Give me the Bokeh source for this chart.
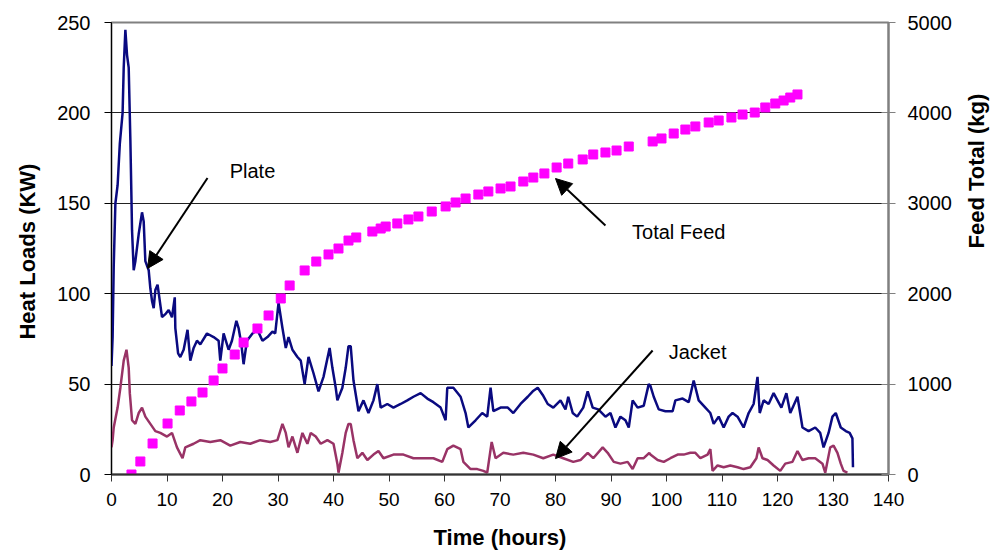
import math
from bokeh.plotting import figure
from bokeh.models import Range1d, LinearAxis, Arrow, NormalHead, Label, FixedTicker
from bokeh.embed import file_html
from bokeh.resources import INLINE

# Plate heat load (kW) versus time (h)
plate_t = [0.0, 0.2, 0.4, 0.7, 1.1, 1.5, 2.0, 2.2, 2.5, 2.8, 3.1, 3.4, 3.6, 3.7, 4.0, 4.3,
           4.9, 5.5, 5.8, 6.1, 6.7, 7.0, 7.3, 7.6, 7.9, 8.3, 8.7, 9.1, 9.8, 10.3, 10.9,
           11.4, 11.5, 12.0, 12.4, 13.0, 13.7, 14.2, 14.8, 15.4, 16.0, 17.2, 18.4, 19.3,
           19.6, 20.2, 21.1, 21.7, 22.5, 22.9, 23.4, 23.8, 24.4, 25.4, 26.3, 27.2, 28.1,
           29.0, 29.5, 30.1, 30.8, 31.4, 31.9, 32.6, 33.5, 34.1, 34.8, 35.5, 36.4, 37.3,
           38.2, 39.3, 39.8, 40.4, 40.7, 41.6, 42.2, 42.7, 43.1, 43.6, 44.5, 45.4, 46.3,
           47.2, 47.9, 48.5, 49.7, 50.8, 52.1, 53.3, 54.4, 55.7, 56.9, 58.0, 59.3, 60.2,
           60.5, 61.6, 62.9, 63.8, 64.3, 65.6, 66.8, 67.7, 68.3, 68.8, 70.1, 71.4, 72.4,
           73.7, 75.0, 75.9, 76.8, 77.7, 78.6, 79.6, 80.9, 81.8, 82.3, 83.1, 83.9, 85.0,
           85.8, 86.7, 87.7, 89.0, 89.9, 90.8, 91.7, 92.6, 93.2, 93.9, 94.8, 95.9, 96.8,
           97.1, 97.7, 98.6, 99.8, 101.1, 101.6, 102.9, 104.0, 104.9, 105.8, 107.0, 107.9,
           108.5, 109.4, 110.3, 111.2, 111.9, 112.8, 113.9, 114.8, 115.7, 116.4, 116.8,
           117.5, 118.4, 119.3, 120.0, 120.7, 121.6, 122.3, 123.6, 124.5, 125.6, 126.8,
           127.7, 128.3, 129.2, 129.9, 130.5, 131.4, 132.3, 133.0, 133.5, 133.6]
plate_kw = [60, 76, 115, 150, 160, 183, 200, 225, 246, 232, 225, 185, 152, 135, 113, 118,
            133, 145, 140, 118, 113, 103, 96, 92, 102, 105, 96, 87, 89, 91, 87,
            98, 81, 67, 65, 69, 80, 63, 70, 74, 72, 78, 76, 74,
            63, 78, 69, 74, 85, 81, 72, 61, 74, 78, 80, 74, 76,
            79, 78, 95, 81, 70, 76, 69, 65, 63, 50, 65, 56, 46,
            54, 70, 59, 48, 41, 48, 59, 71, 71, 52, 35, 41, 34,
            41, 50, 37, 39, 37, 39, 41, 43, 45, 42, 40, 37, 30,
            48, 48, 43, 34, 26, 30, 34, 32, 48, 35, 37, 37, 34,
            39, 43, 46, 48, 44, 39, 37, 41, 36, 43, 34, 32, 37,
            46, 37, 36, 32, 34, 26, 32, 30, 26, 41, 37, 38, 50,
            49, 43, 36, 35, 35, 41, 42, 40, 52, 41, 37, 34,
            28, 32, 26, 32, 34, 32, 26, 34, 39, 54, 34,
            41, 39, 45, 41, 37, 45, 34, 43, 26, 24, 26,
            23, 15, 23, 32, 34, 26, 24, 23, 20, 4]

# Jacket heat load (kW) versus time (h)
jacket_t = [0.0, 0.2, 0.4, 1.1, 1.6, 2.2, 2.7, 3.1, 3.3, 3.7, 4.3, 4.9, 5.5, 6.1, 7.0, 7.9,
            8.8, 10.0, 10.9, 11.8, 12.8, 13.3, 14.8, 16.0, 17.8, 19.6, 21.4, 23.2, 25.0,
            26.8, 28.6, 29.9, 30.8, 31.4, 31.9, 32.6, 33.5, 34.4, 35.3, 35.9, 36.8, 37.7,
            38.9, 40.0, 40.7, 40.9, 41.6, 42.2, 42.7, 43.1, 43.6, 44.3, 45.2, 46.1, 47.2,
            48.1, 49.0, 50.8, 52.6, 54.4, 56.2, 58.0, 59.6, 60.5, 61.6, 62.9, 63.4, 64.7,
            65.9, 67.0, 67.7, 68.5, 69.2, 70.6, 72.4, 74.2, 76.0, 77.8, 79.6, 81.4, 83.2,
            84.5, 85.8, 86.8, 88.5, 89.4, 90.5, 91.7, 93.0, 93.9, 94.8, 95.9, 96.9, 97.1,
            98.4, 99.5, 100.7, 102.0, 103.1, 104.3, 105.2, 106.1, 107.4, 107.9, 108.3,
            109.2, 110.3, 111.5, 112.8, 113.9, 115.1, 116.2, 116.6, 117.3, 118.2, 119.3,
            120.5, 121.4, 122.7, 123.6, 124.5, 125.6, 126.8, 128.1, 128.6, 129.5, 130.1,
            130.8, 131.4, 131.9, 132.6]
jacket_kw = [15, 19, 26, 37, 48, 63, 69, 59, 45, 30, 28, 34, 37, 32, 28, 24,
             23, 21, 23, 15, 9, 15, 17, 19, 18, 19, 16, 18, 17,
             19, 18, 19, 28, 23, 15, 21, 12, 23, 17, 23, 21, 17,
             19, 17, 6, 1, 12, 23, 28, 28, 19, 9, 12, 8, 11,
             13, 9, 11, 11, 9, 9, 9, 7, 14, 16, 14, 7, 3,
             3, 2, 1, 18, 9, 12, 11, 12, 11, 9, 11, 9, 7,
             8, 12, 9, 15, 12, 7, 6, 7, 3, 9, 9, 12, 11,
             8, 7, 9, 11, 11, 12, 12, 9, 11, 14, 2,
             5, 4, 5, 4, 3, 4, 9, 15, 9, 8, 5,
             2, 6, 7, 13, 8, 9, 9, 6, 1, 15, 16,
             12, 6, 2, 1]

# Cumulative feed (kg)
feed_t = [3.6, 5.2, 7.4, 10.1, 12.3, 14.4, 16.4, 18.4, 20.0, 22.2, 23.8, 26.3, 28.3, 30.5,
          32.1, 34.8, 36.9, 39.1, 40.9, 42.7, 44.1, 47.0, 48.5, 49.4, 51.5, 53.5, 55.3,
          57.7, 60.2, 62.0, 63.8, 66.1, 67.9, 70.1, 71.9, 74.2, 76.0, 78.0, 80.2, 82.3,
          84.9, 86.8, 89.0, 91.0, 93.2, 97.5, 99.1, 101.3, 103.4, 105.2, 107.6, 109.4,
          111.7, 113.7, 115.9, 117.8, 119.6, 121.1, 122.3, 123.6]
feed_kg = [0, 144, 343, 564, 708, 808, 907, 1040, 1173, 1327, 1460, 1615, 1759, 1947,
           2091, 2257, 2356, 2434, 2500, 2588, 2622, 2688, 2721, 2743, 2777, 2821, 2854,
           2909, 2965, 3009, 3053, 3097, 3131, 3164, 3186, 3241, 3285, 3330, 3396, 3440,
           3485, 3540, 3562, 3584, 3628, 3684, 3717, 3772, 3816, 3850, 3894, 3916,
           3949, 3982, 4004, 4060, 4104, 4137, 4170, 4204]

x_ticks = list(range(0, 141, 10))
kw_ticks = [0, 50, 100, 150, 200, 250]
kg_ticks = [0, 1000, 2000, 3000, 4000, 5000]

FONT = "Liberation Sans"

p = figure(frame_width=777, frame_height=452,
           min_border_left=111, min_border_right=107,
           min_border_top=22, min_border_bottom=86,
           x_range=Range1d(0, 140), y_range=Range1d(0, 250),
           output_backend="svg", toolbar_location=None,
           background_fill_color="white", border_fill_color="white")
p.extra_y_ranges = {"feed": Range1d(0, 5000)}
p.outline_line_color = "#808080"
p.outline_line_width = 2

p.xgrid.visible = False
p.ygrid.ticker = FixedTicker(ticks=kw_ticks)
p.ygrid.grid_line_color = "#222222"
p.ygrid.grid_line_width = 1

# bottom axis
xa = p.xaxis[0]
xa.ticker = FixedTicker(ticks=x_ticks)
xa.axis_label = "Time (hours)"
xa.axis_line_color = "#333333"
xa.axis_line_width = 2
xa.major_tick_out = 7
xa.major_tick_in = 0
xa.minor_tick_out = 0
xa.major_tick_line_color = "#333333"
xa.major_label_text_font = FONT
xa.major_label_text_font_size = "19px"
xa.major_label_text_color = "black"
xa.major_label_standoff = 11
xa.axis_label_text_font = FONT
xa.axis_label_text_font_style = "bold"
xa.axis_label_text_font_size = "22px"
xa.axis_label_text_color = "black"
xa.axis_label_standoff = 16

# left axis
ya = p.yaxis[0]
ya.ticker = FixedTicker(ticks=kw_ticks)
ya.axis_label = "Heat Loads  (KW)"
ya.axis_line_color = "black"
ya.major_tick_out = 7
ya.major_tick_in = 0
ya.minor_tick_out = 0
ya.major_label_text_font = FONT
ya.major_label_text_font_size = "20px"
ya.major_label_text_color = "black"
ya.major_label_standoff = 14
ya.axis_label_text_font = FONT
ya.axis_label_text_font_style = "bold"
ya.axis_label_text_font_size = "22px"
ya.axis_label_text_color = "black"
ya.axis_label_standoff = 14

# right axis for cumulative feed
ra = LinearAxis(y_range_name="feed", ticker=FixedTicker(ticks=kg_ticks),
                axis_label="Feed Total  (kg)")
ra.axis_line_color = "#808080"
ra.axis_line_width = 2
ra.major_tick_out = 7
ra.major_tick_in = 7
ra.minor_tick_out = 0
ra.minor_tick_in = 0
ra.major_tick_line_color = "#808080"
ra.major_label_text_font = FONT
ra.major_label_text_font_size = "20px"
ra.major_label_text_color = "black"
ra.major_label_standoff = 12
ra.axis_label_orientation = math.pi / 2
ra.axis_label_text_font = FONT
ra.axis_label_text_font_style = "bold"
ra.axis_label_text_font_size = "22px"
ra.axis_label_text_color = "black"
ra.axis_label_standoff = 22
p.add_layout(ra, "right")

p.line(plate_t, plate_kw, line_color="#0a0a80", line_width=2.5)
p.line(jacket_t, jacket_kw, line_color="#993366", line_width=2.5)
p.scatter(feed_t, feed_kg, marker="square", size=9, fill_color="#ff00ff",
          line_color="#ff00ff", y_range_name="feed")

# callouts
def callout(x0, y0, x1, y1):
    p.add_layout(Arrow(end=NormalHead(size=16, fill_color="black", line_color="black"),
                       x_start=x0, y_start=y0, x_end=x1, y_end=y1,
                       line_color="black", line_width=2))

callout(17.3, 164, 6.5, 114)
callout(89.0, 137.7, 80.0, 163.7)
callout(97.5, 68.6, 80.0, 8.8)

for txt, tx, ty in [("Plate", 25.4, 168), ("Total Feed", 102.2, 134), ("Jacket", 105.6, 67.5)]:
    p.add_layout(Label(x=tx, y=ty, text=txt, text_align="center", text_baseline="middle",
                       text_font=FONT, text_font_size="20px", text_color="black"))

open("out.html", "w").write(file_html(p, INLINE))
